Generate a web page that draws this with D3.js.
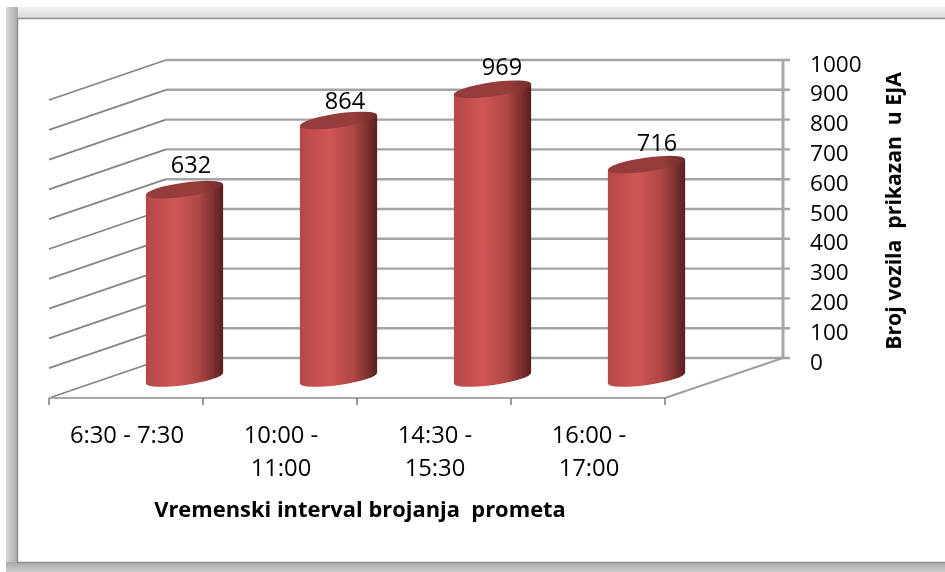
<!DOCTYPE html>
<html><head><meta charset="utf-8">
<script src="https://cdn.jsdelivr.net/npm/d3@7"></script>
<style>
html,body{margin:0;padding:0;background:#fff;overflow:hidden}
svg{display:block}
text{font-family:"Open Sans","Noto Sans",sans-serif;fill:#000;white-space:pre}
</style></head><body>
<svg id="c" width="945" height="572"></svg>
<script>
const categories = ["6:30 - 7:30", "10:00 -\n11:00", "14:30 -\n15:30", "16:00 -\n17:00"];
const values = [632, 864, 969, 716];
const yTicks = [0, 100, 200, 300, 400, 500, 600, 700, 800, 900, 1000];
const xTitle = "Vremenski interval brojanja  prometa";
const yTitle = "Broj vozila  prikazan  u EJA";

const svg = d3.select("#c");
const defs = svg.append("defs");
function grad(id, x2, y2, stops) {
  const g = defs.append("linearGradient").attr("id", id).attr("x1", 0).attr("y1", 0).attr("x2", x2).attr("y2", y2);
  stops.forEach(s => g.append("stop").attr("offset", s[0]).attr("stop-color", s[1]));
}
grad("shL", 1, 0, [[0, "#d8d8d8"], [0.6, "#bcbcbc"], [1, "#a8a8a8"]]);
grad("shT", 0, 1, [[0, "#f0f0f0"], [1, "#d8d8d8"]]);
grad("shB", 0, 1, [[0, "#a8a8a8"], [1, "#cccccc"]]);
grad("body", 1, 0, [[0, "#b44846"], [0.38, "#d05655"], [0.68, "#b04846"], [0.88, "#7c2f2e"], [1, "#562020"]]);
grad("cap", 1, 0, [[0, "#953b3a"], [0.7, "#973c3b"], [1, "#702b2a"]]);
defs.append("filter").attr("id", "soft").attr("x", "-5%").attr("y", "-5%").attr("width", "110%").attr("height", "110%")
  .append("feGaussianBlur").attr("stdDeviation", 0.7);
defs.append("filter").attr("id", "softT").attr("x", "-5%").attr("y", "-20%").attr("width", "110%").attr("height", "140%")
  .append("feGaussianBlur").attr("stdDeviation", 0.35);

// picture frame
svg.append("rect").attr("x", 6).attr("y", 7).attr("width", 939).attr("height", 12).attr("fill", "url(#shT)");
svg.append("rect").attr("x", 6).attr("y", 7).attr("width", 12).attr("height", 565).attr("fill", "url(#shL)");
svg.append("rect").attr("x", 6).attr("y", 562).attr("width", 939).attr("height", 10).attr("fill", "url(#shB)");
svg.append("rect").attr("x", 17.5).attr("y", 18.5).attr("width", 940).attr("height", 544).attr("fill", "#fff").attr("stroke", "#8f8f8f").attr("stroke-width", 1.5);

// 3D layout
const depthX = 117, depthY = -40;
const x = d3.scaleBand().domain(categories).range([49, 665]);
const y = d3.scaleLinear().domain([0, 1000]).range([358, 60]);
const frontY = v => y(v) - depthY;
const g = svg.append("g").attr("filter", "url(#soft)");

// side wall and back wall gridlines
g.selectAll("line.side").data(yTicks).join("line").attr("class", "side")
  .attr("x1", x.range()[0]).attr("y1", frontY).attr("x2", x.range()[0] + depthX).attr("y2", d => y(d))
  .attr("stroke", "#858585").attr("stroke-width", 1.8);
g.selectAll("line.back").data(yTicks).join("line").attr("class", "back")
  .attr("x1", x.range()[0] + depthX).attr("y1", d => y(d)).attr("x2", x.range()[1] + depthX + 8).attr("y2", d => y(d))
  .attr("stroke", "#a4a4a4").attr("stroke-width", 2.4);
g.append("line").attr("x1", x.range()[1] + depthX + 1).attr("x2", x.range()[1] + depthX + 1).attr("y1", y(1000)).attr("y2", y(0))
  .attr("stroke", "#a8a8a8").attr("stroke-width", 3);

// floor
g.append("line").attr("x1", x.range()[0]).attr("x2", x.range()[1]).attr("y1", frontY(0)).attr("y2", frontY(0)).attr("stroke", "#a8a8a8").attr("stroke-width", 2.2);
g.append("line").attr("x1", x.range()[1]).attr("y1", frontY(0)).attr("x2", x.range()[1] + depthX + 1).attr("y2", y(0)).attr("stroke", "#a0a0a0").attr("stroke-width", 2);
const edges = categories.map(c => x(c)).concat([x.range()[1]]);
g.selectAll("line.tick").data(edges).join("line").attr("class", "tick")
  .attr("x1", d => d).attr("x2", d => d).attr("y1", frontY(0)).attr("y2", frontY(0) + 7)
  .attr("stroke", "#6f6f6f").attr("stroke-width", 1.4);

// cylinders
const rx = 39, ry = 7, tilt = -8;
const ex = rx * Math.cos(tilt * Math.PI / 180), ey = rx * Math.sin(tilt * Math.PI / 180);
const midY = v => y(v) - depthY / 2;
const cx = c => x(c) + x.bandwidth() / 2 + depthX / 2;
const rows = categories.map((c, i) => ({c, v: values[i], i}));
const bars = g.selectAll("g.bar").data(rows).join("g").attr("class", "bar");
bars.append("path").attr("fill", "url(#body)").attr("d", d => {
  const X = cx(d.c), T = midY(d.v), B = midY(0);
  return `M${X - ex},${T - ey}L${X - ex},${B - ey}A${rx},${ry} ${tilt} 0 0 ${X + ex},${B + ey}L${X + ex},${T + ey}Z`;
});
bars.append("ellipse").attr("fill", "url(#cap)").attr("rx", rx).attr("ry", ry)
  .attr("transform", d => `translate(${cx(d.c)},${midY(d.v)}) rotate(${tilt})`);

const t = svg.append("g").attr("filter", "url(#softT)");
// value labels: the original's hand-placed label offsets
const labelDx = [6.5, 6.5, 9.5, 10.5], labelDy = [-17, -11.2, -14.2, -13.6];
t.selectAll("text.val").data(rows).join("text").attr("class", "val")
  .attr("x", d => cx(d.c) + labelDx[d.i]).attr("y", d => midY(d.v) + labelDy[d.i])
  .attr("text-anchor", "middle").attr("font-size", 23.5).text(d => d.v);
// value axis labels
t.selectAll("text.yt").data(yTicks).join("text").attr("class", "yt")
  .attr("x", 810).attr("y", d => y(d) + 11.5).attr("font-size", 22.6).text(d => d);
// category labels
categories.forEach(c => {
  c.split("\n").forEach((s, j) => {
    t.append("text").attr("x", x(c) + x.bandwidth() / 2 + 1).attr("y", 443 + j * 33)
      .attr("text-anchor", "middle").attr("font-size", 23.8).text(s);
  });
});
// axis titles
t.append("text").attr("x", 360).attr("y", 517).attr("text-anchor", "middle").attr("font-size", 21.9).attr("font-weight", 700).text(xTitle);
t.append("text").attr("transform", "translate(901,211) rotate(-90)").attr("text-anchor", "middle").attr("font-size", 21.2).attr("font-weight", 700).text(yTitle);
</script>
</body></html>
